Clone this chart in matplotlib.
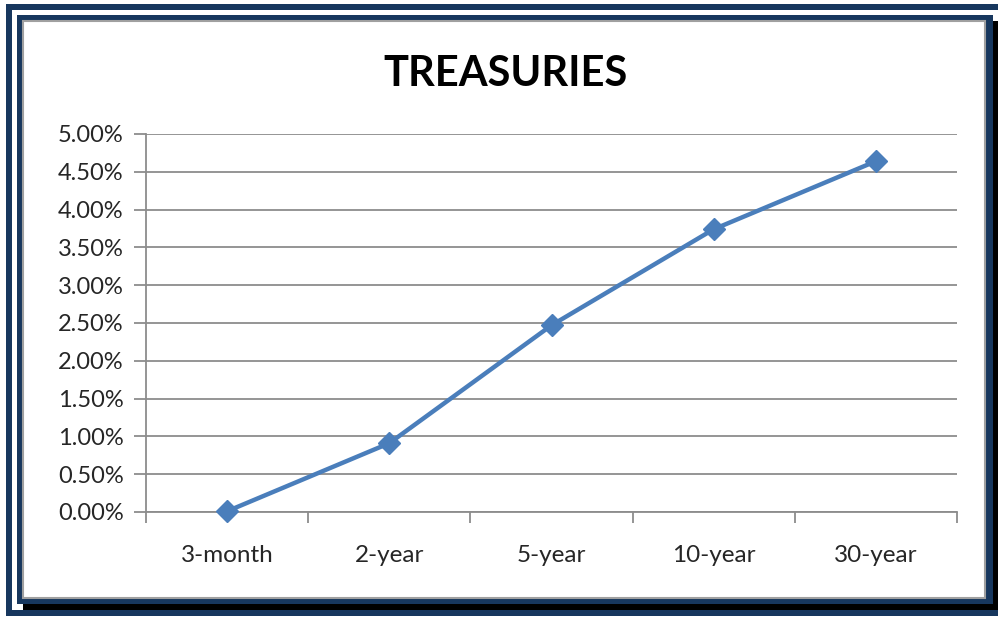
import matplotlib
matplotlib.use("Agg")
import matplotlib.pyplot as plt
from matplotlib.patches import Rectangle
from matplotlib.ticker import FuncFormatter, FixedLocator, NullFormatter

maturities = ["3-month", "2-year", "5-year", "10-year", "30-year"]
yields_pct = [0.01, 0.91, 2.47, 3.74, 4.64]
y_ticks = [0.0, 0.5, 1.0, 1.5, 2.0, 2.5, 3.0, 3.5, 4.0, 4.5, 5.0]

W, H = 998, 617
NAVY = "#17375e"
LINE = "#4a7ebb"
GRID = "#8c8c8c"
TEXT = "#262626"

plt.rcParams["font.family"] = ["Lato", "DejaVu Sans"]

fig = plt.figure(figsize=(W / 100, H / 100), dpi=100)
fig.patch.set_facecolor("white")


def box(x0, y0, x1, y1, **kw):
    # pixel box, origin at top-left
    r = Rectangle((x0 / W, 1 - y1 / H), (x1 - x0) / W, (y1 - y0) / H,
                  transform=fig.transFigure, **kw)
    fig.add_artist(r)
    return r


# outer frame
box(6, 4, 998, 10, facecolor=NAVY, edgecolor="none", zorder=-5)
box(6, 4, 12, 616, facecolor=NAVY, edgecolor="none", zorder=-5)
box(6, 610, 998, 616, facecolor=NAVY, edgecolor="none", zorder=-5)
# drop shadow and inner frame
box(23, 21, 998, 610, facecolor="black", edgecolor="none", zorder=-4)
box(17, 15, 993, 604, facecolor=NAVY, edgecolor="none", zorder=-3)
box(23, 21, 985, 598, facecolor="white", edgecolor="#a0a0a0", linewidth=1.5, zorder=-2)

ax = fig.add_axes([146 / W, 1 - 512 / H, 811 / W, 378 / H])
ax.set_facecolor("none")

x = [i + 0.5 for i in range(len(maturities))]
ax.plot(x, yields_pct, color=LINE, linewidth=3.2, marker="D", markersize=11,
        markerfacecolor=LINE, markeredgecolor=LINE, clip_on=False, zorder=3)

ax.set_xlim(0, len(maturities))
ax.set_ylim(0, 5)
ax.set_yticks(y_ticks)
ax.yaxis.set_major_formatter(FuncFormatter(lambda v, p: f"{v:.2f}%"))
ax.grid(axis="y", color=GRID, linewidth=1.3)
ax.set_axisbelow(True)

ax.xaxis.set_major_locator(FixedLocator(range(len(maturities) + 1)))
ax.xaxis.set_major_formatter(NullFormatter())
ax.xaxis.set_minor_locator(FixedLocator(x))
ax.set_xticklabels(maturities, minor=True)
ax.tick_params(axis="x", which="major", length=8, width=1.3, color=GRID, direction="out")
ax.tick_params(axis="x", which="minor", length=0, pad=24, labelsize=17.5, labelcolor=TEXT)
ax.tick_params(axis="y", length=9, width=1.3, color=GRID, pad=7, labelsize=17, labelcolor=TEXT)

for s in ("top", "right"):
    ax.spines[s].set_visible(False)
for s in ("left", "bottom"):
    ax.spines[s].set_color(GRID)
    ax.spines[s].set_linewidth(1.3)

fig.text(505 / W, 1 - 74 / H, "TREASURIES", ha="center", va="center",
         fontsize=30, fontweight="bold", color="black")

fig.savefig("out.png", dpi=100)
